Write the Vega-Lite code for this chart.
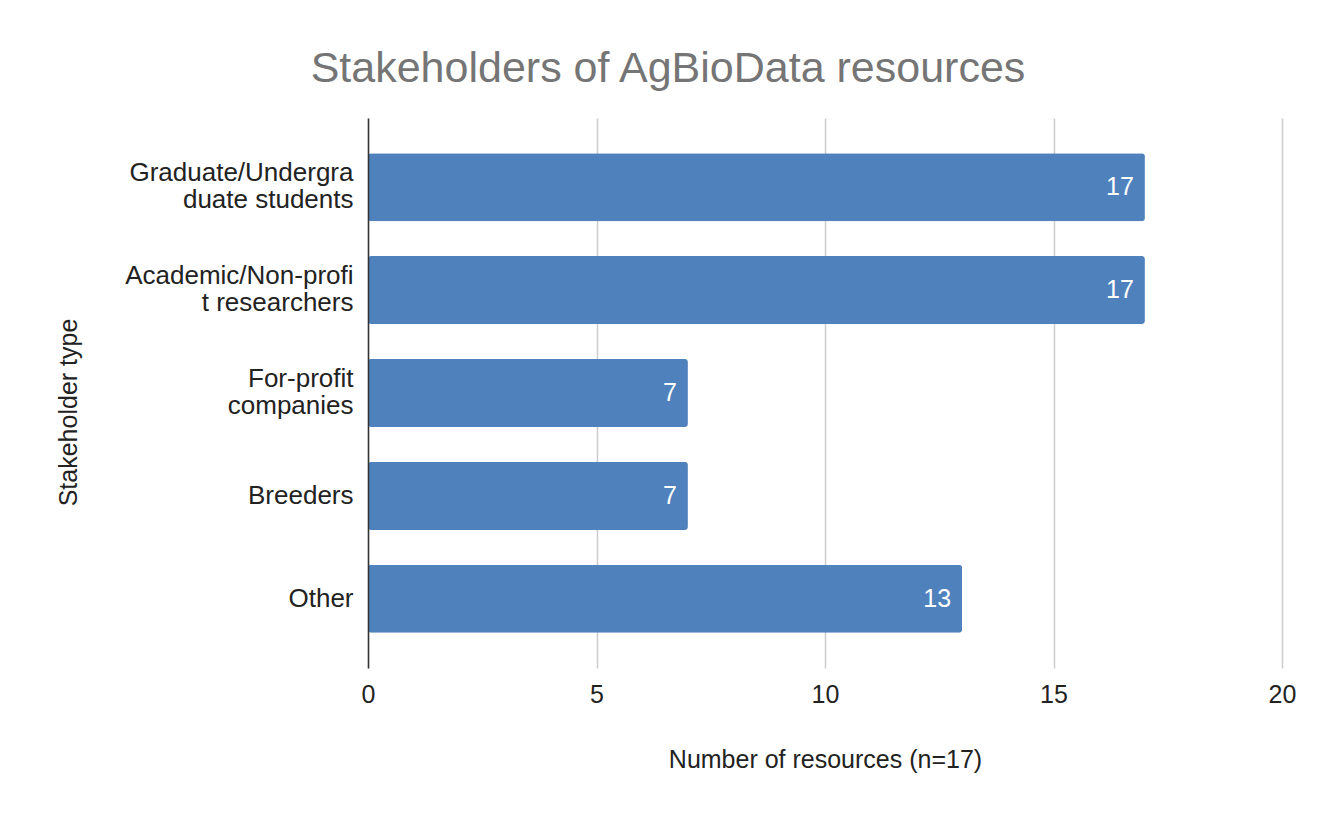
{
  "$schema": "https://vega.github.io/schema/vega-lite/v6.json",
  "autosize": {"type": "none"},
  "padding": {"left": 368, "top": 118, "right": 46, "bottom": 145},
  "width": 914,
  "height": 550,
  "background": "white",
  "title": {
    "text": "Stakeholders of AgBioData resources",
    "anchor": "middle",
    "dx": -157,
    "offset": 27,
    "font": "Liberation Sans",
    "fontSize": 43,
    "fontWeight": "normal",
    "color": "#757575"
  },
  "data": {
    "values": [
      {"stakeholder": "Graduate/Undergraduate students", "count": 17},
      {"stakeholder": "Academic/Non-profit researchers", "count": 17},
      {"stakeholder": "For-profit companies", "count": 7},
      {"stakeholder": "Breeders", "count": 7},
      {"stakeholder": "Other", "count": 13}
    ]
  },
  "encoding": {
    "y": {
      "field": "stakeholder",
      "type": "nominal",
      "sort": null,
      "scale": {"paddingInner": 0.339, "paddingOuter": 0.342},
      "axis": {
        "title": "Stakeholder type",
        "titleFont": "Liberation Sans",
        "titleFontSize": 25,
        "titleFontWeight": "normal",
        "titleColor": "#222222",
        "titlePadding": 87,
        "titleY": 294,
        "labelFont": "Liberation Sans",
        "labelFontSize": 26,
        "labelColor": "#222222",
        "labelPadding": 15,
        "labelLineHeight": 27,
        "labelLimit": 400,
        "labelOffset": {"condition": {"test": "datum.value == 'Breeders' || datum.value == 'Other'", "value": 0}, "value": -14},
        "ticks": false,
        "domain": true,
        "domainColor": "#333333",
        "domainWidth": 1.5,
        "zindex": 1,
        "labelExpr": "datum.value == 'Graduate/Undergraduate students' ? ['Graduate/Undergra', 'duate students'] : datum.value == 'Academic/Non-profit researchers' ? ['Academic/Non-profi', 't researchers'] : datum.value == 'For-profit companies' ? ['For-profit', 'companies'] : datum.label"
      }
    },
    "x": {
      "field": "count",
      "type": "quantitative",
      "scale": {"domain": [0, 20], "nice": false},
      "axis": {
        "title": "Number of resources (n=17)",
        "values": [0, 5, 10, 15, 20],
        "titleFont": "Liberation Sans",
        "titleFontSize": 25,
        "titleFontWeight": "normal",
        "titleColor": "#222222",
        "titlePadding": 40,
        "labelFont": "Liberation Sans",
        "labelFontSize": 25,
        "labelColor": "#222222",
        "labelPadding": 14,
        "labelFlush": false,
        "ticks": false,
        "domain": false,
        "grid": true,
        "gridColor": "#cccccc",
        "gridWidth": 1.5
      }
    }
  },
  "layer": [
    {
      "mark": {"type": "bar", "color": "#4F81BD", "cornerRadius": 3}
    },
    {
      "mark": {
        "type": "text",
        "align": "right",
        "baseline": "middle",
        "dx": -11,
        "color": "white",
        "font": "Liberation Sans",
        "fontSize": 25
      },
      "encoding": {"text": {"field": "count", "type": "quantitative"}}
    }
  ],
  "config": {"view": {"stroke": null}}
}
